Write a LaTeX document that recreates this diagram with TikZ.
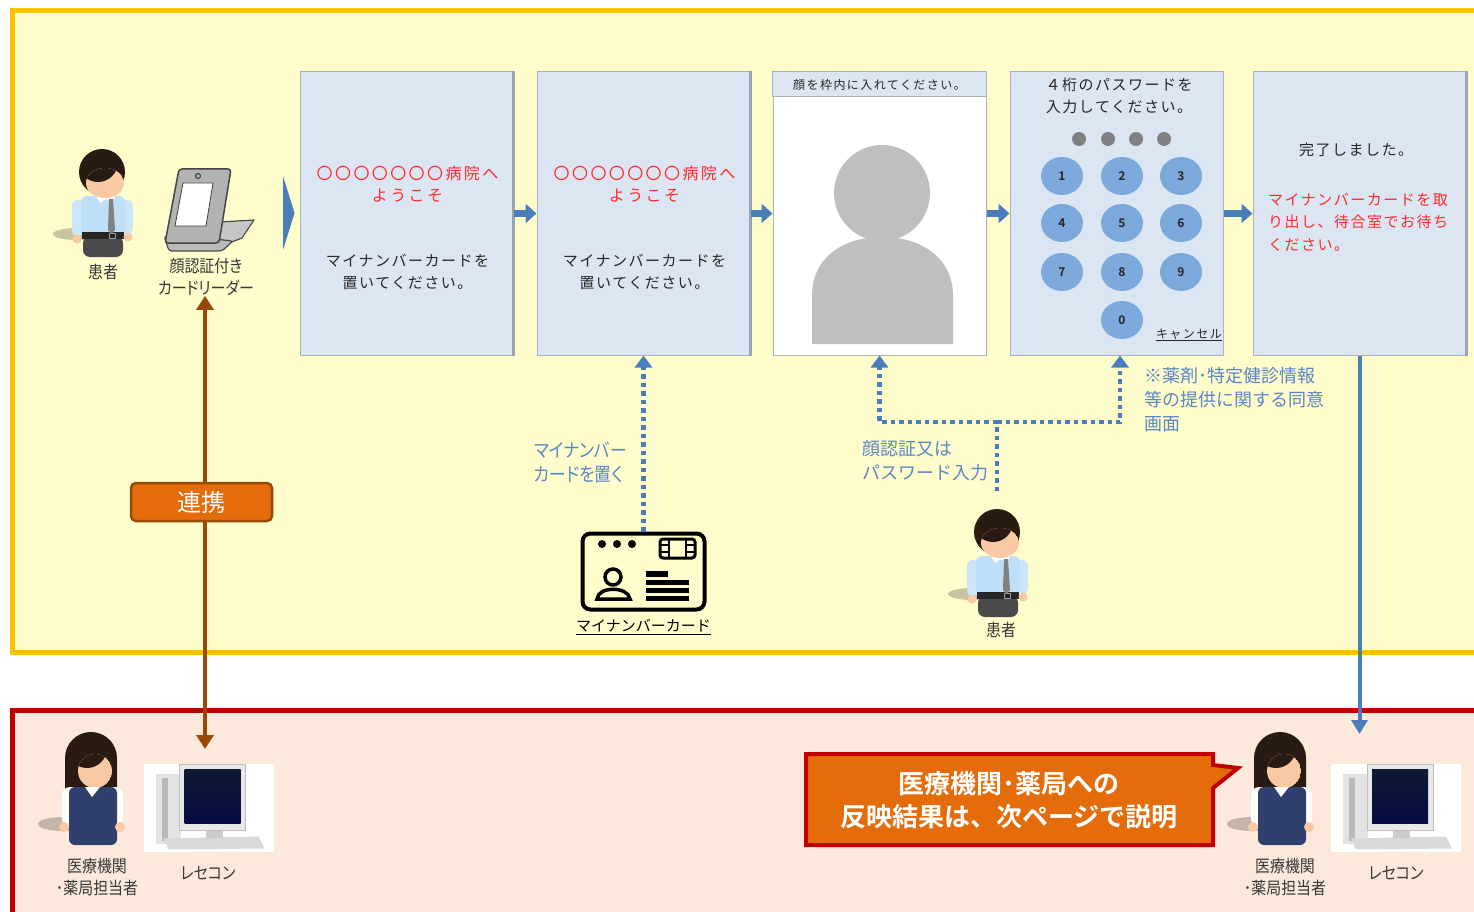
\documentclass[tikz,border=0pt]{standalone}
\usepackage{fontspec}
\setmainfont{Noto Sans CJK JP}[BoldFont={Noto Sans CJK JP Bold}]
\usetikzlibrary{arrows.meta,calc,shapes.geometric}

\definecolor{panelY}{HTML}{FFFDCC}
\definecolor{panelYline}{HTML}{FFC000}
\definecolor{panelR}{HTML}{FCE9DB}
\definecolor{panelRline}{HTML}{C00000}
\definecolor{scr}{HTML}{DCE6F2}
\definecolor{scrline}{HTML}{A9B3C0}
\definecolor{scrshade}{HTML}{98A4B4}
\definecolor{flow}{HTML}{4A7EBB}
\definecolor{labelblue}{HTML}{5B87C6}
\definecolor{msgred}{HTML}{FF2A2A}
\definecolor{keyblue}{HTML}{7BA9DB}
\definecolor{brownln}{HTML}{984807}
\definecolor{orng}{HTML}{E46C0A}
\definecolor{hair}{HTML}{2A1B12}
\definecolor{skin}{HTML}{F9C9A3}
\definecolor{shirt}{HTML}{BEDFF7}
\definecolor{pants}{HTML}{4A4A4A}
\definecolor{navy}{HTML}{2F3F6E}
\definecolor{silhouette}{HTML}{BFBFBF}
\definecolor{monitor}{HTML}{0E1A33}

\newcommand{\kanaprop}{\addfontfeature{RawFeature=+palt}}
\newcommand{\narrowset}{\addfontfeature{RawFeature=+palt,FakeStretch=0.88}}
\newcommand{\wide}[1]{\addfontfeature{LetterSpace=#1}}

\tikzset{
  screen/.style={draw=scrline, line width=1, fill=scr, minimum width=213, minimum height=283, inner sep=0},
  scrshadow/.style={draw=scrshade, line width=3},
  scrtxt/.style={font=\fontsize{15}{22.5}\selectfont\wide{10}, text=black!85, align=center, inner sep=0},
  redtxt/.style={scrtxt, text=msgred},
  welcome/.style={redtxt, font=\fontsize{16}{22.5}\selectfont\wide{15}},
  lbl/.style={font=\fontsize{17}{22}\selectfont\narrowset, text=black!78, align=center, inner sep=0},
  bluetxt/.style={font=\fontsize{18}{24}\selectfont, text=labelblue, align=left, inner sep=0},
  key/.style={ellipse, fill=keyblue, minimum width=42, minimum height=38, inner sep=0,
              font=\fontsize{12}{12}\selectfont\bfseries, text=black!85},
  pindot/.style={circle, fill=black!50, minimum size=14, inner sep=0},
  stepgap/.style={draw=flow, line width=7, -{Triangle[length=11pt,width=19pt]}},
  dotflow/.style={draw=flow, line width=4.5, dash pattern=on 4.5pt off 4pt, -{Triangle[length=12pt,width=17pt]}},
  dotplain/.style={draw=flow, line width=4.5, dash pattern=on 4.5pt off 4pt},
  solidflow/.style={draw=flow, line width=4, -{Triangle[length=14pt,width=16pt]}},
  linkline/.style={draw=brownln, line width=4,
                   {Triangle[length=14pt,width=17pt]}-{Triangle[length=14pt,width=17pt]}},
  linkbox/.style={draw=brownln, line width=2.5, fill=orng, rounded corners=5, minimum width=141,
                  minimum height=38, inner sep=0, text=white, font=\fontsize{24}{24}\selectfont},
  notetxt/.style={text=white, font=\fontsize{26}{33}\selectfont\bfseries, align=center, inner sep=0},
  % male patient figure, origin at mid torso
  patient/.pic={
    \fill[black, opacity=.22] (-26,34) ellipse [x radius=24, y radius=6];
    \fill[pants, rounded corners=7] (-20,36) rectangle (20,57);
    \fill[shirt!80!white, rounded corners=5] (-31,0) rectangle (-19,36);
    \fill[shirt!80!white, rounded corners=5] (19,0) rectangle (30,34);
    \fill[shirt, rounded corners=6] (-22,-4) rectangle (22,36);
    \fill[black!85] (-21,32) rectangle (21,39);
    \draw[black!40, line width=.8] (6,33) rectangle (12,38);
    \fill[skin] (-26,39) circle (4.5);
    \fill[skin] (25,37) circle (4.5);
    \fill[skin] (-3,-8) rectangle (9,-2);
    \fill[white] (-7,-4) -- (12,-4) -- (9,3) -- (3,-1) -- (-3,3) -- cycle;
    \fill[gray] (6,-1) -- (10,-1) -- (12,30) -- (8.5,34) -- (5,30) -- cycle;
    \fill[hair] (-1,-28) circle (23);
    \begin{scope}
      \clip (2,-17) ellipse [x radius=19, y radius=15];
      \fill[skin] (2,-17) ellipse [x radius=19, y radius=15];
      \fill[hair] (-5,-38) circle (20);
    \end{scope}
  },
  % clinic staff figure, origin at shoulders
  staff/.pic={
    \fill[black, opacity=.22] (-28,34) ellipse [x radius=25, y radius=7];
    \fill[hair, rounded corners=10] (-26,8) rectangle (26,-40);
    \fill[hair] (0,-32) circle (26);
    \begin{scope}
      \clip (4,-19) ellipse [x radius=17, y radius=17];
      \fill[skin] (4,-19) ellipse [x radius=17, y radius=17];
      \fill[hair] (-4,-42) circle (20);
    \end{scope}
    \fill[white, rounded corners=8] (-29,-3) rectangle (32,37);
    \fill[navy, rounded corners=6] (-22,-3) rectangle (26,55);
    \fill[white] (-6,-3) -- (9,-3) -- (1,7) -- cycle;
    \fill[skin] (-27,37) circle (5);
    \fill[skin] (29,37) circle (5);
  },
  % workstation (tower, monitor, keyboard)
  pcset/.pic={
    \fill[white] (-65,-44) rectangle (65,44);
    \fill[gray!22] (-53,-34) rectangle (-28,36);
    \fill[gray!55] (-47,-30) rectangle (-41,33);
    \fill[gray!30] (-45,31) -- (50,29) -- (56,41) -- (-40,42) -- cycle;
    \fill[gray!18] (-29,-43) rectangle (37,23);
    \draw[gray!50, line width=.8] (-29,-43) rectangle (37,23);
    \shade[top color=monitor, bottom color=monitor!70!blue!60!black] (-24,-38) rectangle (32,16);
    \fill[gray!40] (-3,23) rectangle (14,30);
  }
}

\begin{document}
\begin{tikzpicture}[x=1pt, y=-1pt]
\useasboundingbox (0,0) rectangle (1474,912);
\clip (0,0) rectangle (1474,912);
\fill[white] (0,0) rectangle (1474,912);

% ---------- panels ----------
\filldraw[fill=panelY, draw=panelYline, line width=5] (12.5,11) rectangle (1500,652);
\filldraw[fill=panelR, draw=panelRline, line width=5] (12.5,710) rectangle (1500,940);

% ---------- kiosk screens ----------
\node[screen] (s1) at (406.5,213.5) {};
\node[screen] (s2) at (643.5,213.5) {};
\node[screen, fill=white] (s3) at (879.5,213.5) {};
\node[screen] (s4) at (1116.5,213.5) {};
\node[screen] (s5) at (1359.5,213.5) {};
\draw[scrshadow] (s1.north east) -- (s1.south east);
\draw[scrshadow] (s2.north east) -- (s2.south east);
\draw[scrshadow] (s5.north east) -- (s5.south east);

% screen 1 and 2: welcome
\foreach \s/\cx in {1/406.5, 2/643.5}{
  \node[welcome] (w\s) at (\cx+1,184) {〇〇〇〇〇〇〇病院へ\\ようこそ};
  \node[scrtxt] (p\s) at (\cx+1,272) {マイナンバーカードを\\置いてください。};
}

% screen 3: face capture
\filldraw[fill=scr, draw=scrline, line width=1] (s3.north west) rectangle ($(s3.north east)+(0,25)$);
\node[scrtxt, font=\fontsize{12}{14}\selectfont\wide{12}] (facehdr) at (879.5,85) {顔を枠内に入れてください。};
\fill[silhouette] (812,344) -- (812,296) .. controls (812,256) and (845,237) .. (882,237)
  .. controls (919,237) and (953,256) .. (953,296) -- (953,344) -- cycle;
\fill[silhouette] (882,193) circle (48);

% screen 4: PIN pad
\node[scrtxt] (pinhdr) at (1119,96) {４桁のパスワードを\\入力してください。};
\foreach \i/\px in {1/1079, 2/1108, 3/1136, 4/1164}
  \node[pindot] (pd\i) at (\px,139) {};
\foreach \n/\kx/\ky in {1/1062/176, 2/1122/176, 3/1181/176,
                        4/1062/223, 5/1122/223, 6/1181/223,
                        7/1062/272, 8/1122/272, 9/1181/272, 0/1122/320}
  \node[key] (k\n) at (\kx,\ky) {\n};
\node[scrtxt, font=\fontsize{12}{12}\selectfont\wide{12}, anchor=east] (cancel) at (1222,335) {\underline{キャンセル}};

% screen 5: done
\node[scrtxt] (done) at (1356,150) {完了しました。};
\node[redtxt, align=left, anchor=north west] (take) at (1268,193)
  {マイナンバーカードを取\\り出し、待合室でお待ち\\ください。};

% step arrows
\fill[flow] (283,176) -- (294.5,213) -- (283,250) -- cycle;
\draw[stepgap] (s1.east) -- (s2.west);
\draw[stepgap] (s2.east) -- (s3.west);
\draw[stepgap] (s3.east) -- (s4.west);
\draw[stepgap] (s4.east) -- (s5.west);

% ---------- patient and card reader ----------
\pic at (103,200) {patient};
\node[lbl] (pt1) at (103,272) {患者};

\filldraw[fill=gray!45, draw=gray!60!black, line width=1.2, line join=round]
  (203,223) -- (254,220) -- (242,238) -- (214,249) -- cycle;
\filldraw[fill=gray!55, draw=gray!60!black, line width=1.2, rounded corners=3]
  (164,236) -- (169,251) -- (222,251) -- (233,241) -- (214,239) -- cycle;
\filldraw[fill=gray!60, draw=gray!55!black, line width=1.5, rounded corners=3]
  (179,169) -- (231,169) -- (219,243) -- (165,243) -- cycle;
\filldraw[fill=white, draw=gray!50!black, line width=.8]
  (183,183) -- (213,183) -- (206,226) -- (175,226) -- cycle;
\draw[gray!40!black, line width=1] (198,176) circle (2.5);
\node[lbl] (rdlbl) at (206,277) {顔認証付き\\カードリーダー};

% ---------- My Number card ----------
\node[draw=black, line width=4, rounded corners=8, minimum width=122, minimum height=76, inner sep=0]
  (card) at (643.5,571.5) {};
\foreach \dx in {602,617,632} \fill (\dx,544) circle (4);
\draw[line width=3, rounded corners=3] (660,539) rectangle (695,558);
\draw[line width=2.5] (669,539) -- (669,558) (686,539) -- (686,558)
  (660,545) -- (669,545) (660,552) -- (669,552) (686,545) -- (695,545) (686,552) -- (695,552);
\draw[line width=3.5] (613,577) circle (8);
\draw[line width=3.5] (597,599) .. controls (598,586) and (628,586) .. (630,599) -- cycle;
\fill (646,571) rectangle (668,577);
\fill (646,580) rectangle (689,585);
\fill (646,588) rectangle (689,593);
\fill (646,596) rectangle (689,601);
\node[lbl, font=\fontsize{15}{18}\selectfont, text=black] (cardlbl) at (643.5,627) {\underline{マイナンバーカード}};

% ---------- second patient ----------
\pic at (998,560) {patient};
\node[lbl] (pt2) at (1001,630) {患者};
\coordinate (p2top) at (997,491);
\coordinate (junc) at (997,422);

% ---------- flows ----------
\draw[dotflow] (card.north) -- (s2.south);
\node[bluetxt, font=\fontsize{19}{24}\selectfont\narrowset, anchor=west] (placelbl) at (534,462) {マイナンバー\\カードを置く};

\draw[dotplain] (p2top) -- (junc);
\draw[dotflow] (junc) -| (s3.south);
\draw[dotflow] (junc) -| ($(s4.south)+(3.5,0)$);
\node[bluetxt, anchor=west] (authlbl) at (862,461) {顔認証又は\\パスワード入力};
\node[bluetxt, anchor=west] (consent) at (1144,400) {※薬剤･特定健診情報\\等の提供に関する同意\\画面};

% ---------- clinic side ----------
\pic at (91,790) {staff};
\node[lbl] (st1) at (97,877) {医療機関\\･薬局担当者};
\node[minimum width=130, minimum height=88, inner sep=0] (pc1) at (208.5,807.5) {};
\pic at (pc1) {pcset};
\node[lbl] (pc1lbl) at (208,873) {レセコン};

\pic at (1280,790) {staff};
\node[lbl] (st2) at (1285,877) {医療機関\\･薬局担当者};
\node[minimum width=130, minimum height=88, inner sep=0] (pc2) at (1396,807.5) {};
\pic at (pc2) {pcset};
\node[lbl] (pc2lbl) at (1396,873) {レセコン};

% link between the reader and the receipt computer
\coordinate (pc1in) at (205,749);
\draw[linkline] (rdlbl.south -| pc1in) -- (pc1in);
\node[linkbox] (link) at (201.5,502) {連携};

% result flow from the last screen down to the clinic
\coordinate (pc2in) at (1359.5,734);
\draw[solidflow] (s5.south) -- (pc2in);

% callout
\filldraw[fill=orng, draw=panelRline, line width=4, line join=miter]
  (806,754) -- (1213,754) -- (1213,765) -- (1238,768) -- (1213,788) -- (1213,845) -- (806,845) -- cycle;
\node[notetxt] (note) at (1009,800) {医療機関･薬局への\\反映結果は、次ページで説明};
\end{tikzpicture}
\end{document}
